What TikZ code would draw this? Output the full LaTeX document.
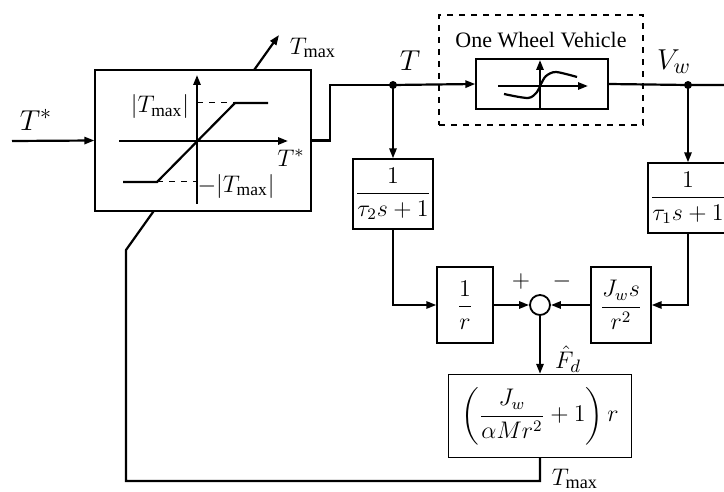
\documentclass[tikz,border=0pt]{standalone}
\usepackage{fontspec}
\setmainfont{Liberation Serif}
\usepackage{amsmath}
\usetikzlibrary{arrows.meta, backgrounds, calc}

\begin{document}
\begin{tikzpicture}[
  x=0.5pt, y=-0.5pt,
  font=\fontsize{11}{13}\selectfont,
  sig/.style={line width=1.1pt, -{Triangle[length=5pt, width=3.6pt]}},
  wire/.style={line width=1.1pt},
  blk/.style={
    draw, line width=0.65pt, fill=white,
    inner sep=1pt, font=\fontsize{12}{14}\selectfont
  },
  sumc/.style={draw, line width=0.9pt, circle, minimum size=10pt, inner sep=0pt, fill=white},
  dot/.style={circle, fill, inner sep=0pt, minimum size=4pt},
  biglbl/.style={font=\fontsize{15}{17}\selectfont},
  midlbl/.style={font=\fontsize{13}{15}\selectfont},
  axlbl/.style={font=\fontsize{12.5}{14}\selectfont}
]
\useasboundingbox (0,0) rectangle (724,492);

% blocks
\node[blk, minimum width=108pt, minimum height=70.5pt] (sat) at (203,140.5) {};
\node[draw, dashed, line width=0.65pt, minimum width=102pt, minimum height=55pt] (plant) at (541,70) {};
\node[anchor=north] (plantlbl) at (541,25) {One Wheel Vehicle};
\node[blk, minimum width=66pt, minimum height=25pt] (veh) at (542,84) {};
\node[blk, minimum width=37pt, minimum height=35pt] (lagt) at (393,194) {$\dfrac{1}{\tau_2 s+1}$};
\node[blk, minimum width=34.5pt, minimum height=35pt] (lagv) at (688,198) {$\dfrac{1}{\tau_1 s+1}$};
\node[blk, minimum width=28pt, minimum height=38pt] (invr) at (465,305) {$\dfrac{1}{r}$};
\node[blk, minimum width=30pt, minimum height=38pt] (jw) at (621,305) {$\dfrac{J_w s}{r^2}$};
\node[sumc] (sum) at (540,305) {};
\node[blk, font=\fontsize{11.5}{13}\selectfont, minimum width=91.5pt, minimum height=41.5pt] (gain) at (540,416) {$\left(\dfrac{J_w}{\alpha M r^2}+1\right) r$};

% saturation curve
\draw[sig] (119,141) -- (288,141);
\draw[sig] (197,204) -- (197,75);
\draw[wire] (123,182) -- (157,182) -- (235,103) -- (268,103);
\draw[dashed, line width=0.5pt] (197,103) -- (235,103);
\draw[dashed, line width=0.5pt] (157,182) -- (197,182);
\node[axlbl] (tmaxpos) at (160,107) {$|T_{\max}|$};
\node[axlbl] (tmaxneg) at (236,186) {$-|T_{\max}|$};
\node[axlbl] (tstarax) at (291,158) {$T^{*}$};

% vehicle curve
\draw[sig] (498,86) -- (588,86);
\draw[sig] (540,109) -- (540,60);
\draw[wire] plot[smooth] coordinates {(504,94) (528,98) (537,92) (541,84) (546,76) (556,72) (577,77)};

% signals
\coordinate (in) at (12,141);
\coordinate (bend) at (330,85);
\coordinate (jt) at (393,85);
\coordinate (jv) at (688,85);
\coordinate (out) at (724,85);
\coordinate (fbcorner) at (126,481);
\coordinate (fbkink) at (126,250);
\coordinate (tmaxtip) at (279,35);

\draw[sig] (in) -- (sat.west);
\draw[wire] (sat.east) -| (bend) -- (jt);
\draw[sig] (jt) -- (veh.west);
\draw[wire] (veh.east) -- (jv) -- (out);
\node[dot] at (jt) {};
\node[dot] at (jv) {};
\draw[sig] (jt) -- (lagt.north);
\draw[sig] (jv) -- (lagv.north);
\draw[sig] (lagt.south) |- (invr.west);
\draw[sig] (invr.east) -- (sum.west);
\draw[sig] (lagv.south) |- (jw.east);
\draw[sig] (jw.west) -- (sum.east);
\draw[sig] (sum.south) -- (gain.north);
\begin{scope}[on background layer]
\draw[sig] (gain.south) |- (fbcorner) -- (fbkink) -- (tmaxtip);
\end{scope}

% labels
\node[biglbl] (tstar) at (36,120) {$T^{*}$};
\node[midlbl] (tmaxtop) at (313,48) {$T_{\max}$};
\node[biglbl] (tlbl) at (410,61) {$T$};
\node[biglbl] (vwlbl) at (674,62) {$V_w$};
\node[axlbl] (plus) at (521,281) {$+$};
\node[axlbl] (minus) at (562,281) {$-$};
\node[midlbl, inner sep=0pt] (fdlbl) at (568,359) {$\hat{F}_d$};
\node[midlbl] (tmaxbot) at (575,479) {$T_{\max}$};
\end{tikzpicture}
\end{document}
